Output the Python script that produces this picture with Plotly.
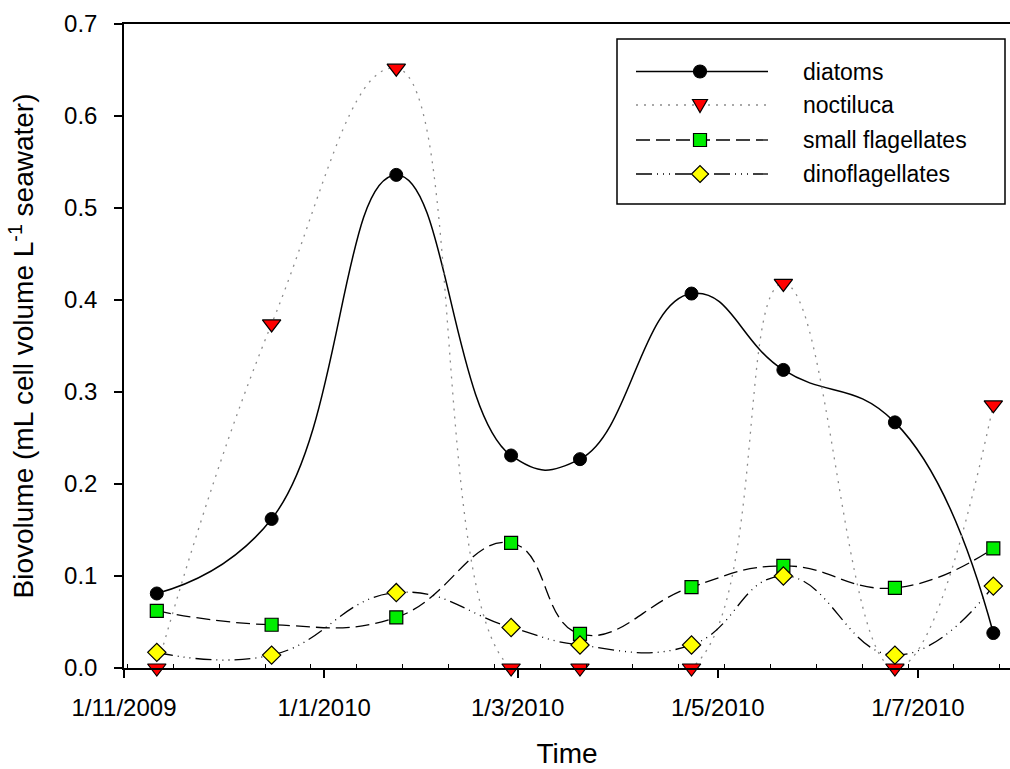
import plotly.graph_objects as go

# Sampling dates and biovolumes (mL cell volume per L seawater)
dates = ["2009-11-11", "2009-12-16", "2010-01-23", "2010-02-27", "2010-03-20",
         "2010-04-23", "2010-05-21", "2010-06-24", "2010-07-24"]
diatoms = [0.081, 0.162, 0.536, 0.231, 0.227, 0.407, 0.324, 0.267, 0.038]
noctiluca = [0.0, 0.374, 0.652, 0.0, 0.0, 0.0, 0.418, 0.0, 0.286]
small_flagellates = [0.062, 0.047, 0.055, 0.136, 0.037, 0.088, 0.111, 0.087, 0.130]
dinoflagellates = [0.017, 0.014, 0.082, 0.044, 0.025, 0.025, 0.100, 0.014, 0.089]

x_tickvals = ["2009-11-01", "2010-01-01", "2010-03-01", "2010-05-01", "2010-07-01"]
x_ticktext = ["1/11/2009", "1/1/2010", "1/3/2010", "1/5/2010", "1/7/2010"]
y_tickvals = [0.0, 0.1, 0.2, 0.3, 0.4, 0.5, 0.6, 0.7]

W, H = 1010, 769
ML, MR, MT, MB = 124, 0, 24, 101
PW, PH = W - ML - MR, H - MT - MB
FONT = "Liberation Sans, Arial, sans-serif"

series = [
    dict(name="diatoms", y=diatoms,
         line=dict(color="black", width=1.5, dash="solid"),
         marker=dict(symbol="circle", size=13, color="black",
                     line=dict(color="black", width=1))),
    dict(name="noctiluca", y=noctiluca,
         line=dict(color="#8c8c8c", width=1.3, dash="2px,6px"),
         marker=dict(symbol="triangle-down", size=16, color="#ff0000",
                     line=dict(color="black", width=1.2))),
    dict(name="small flagellates", y=small_flagellates,
         line=dict(color="black", width=1.3, dash="14px,6px"),
         marker=dict(symbol="square", size=13, color="#00ee00",
                     line=dict(color="black", width=1.2))),
    dict(name="dinoflagellates", y=dinoflagellates,
         line=dict(color="black", width=1.3,
                   dash="16px,5px,1px,5px,1px,5px,1px,5px"),
         marker=dict(symbol="diamond", size=14, color="#ffff00",
                     line=dict(color="black", width=1.2))),
]

fig = go.Figure()
for s in series:
    fig.add_trace(go.Scatter(
        x=dates, y=s["y"], name=s["name"], mode="lines+markers",
        line=dict(shape="spline", smoothing=1.3, **s["line"]),
        marker=s["marker"], cliponaxis=False, showlegend=False,
    ))


def px_x(px):
    return (px - ML) / PW


def px_y(py):
    return (H - MB - py) / PH


# Boxed key with long line samples
shapes = [dict(type="rect", xref="paper", yref="paper",
               x0=px_x(617), x1=px_x(1005), y0=px_y(39), y1=px_y(204),
               line=dict(color="black", width=1.5), fillcolor="white", layer="above")]
annotations = []
rows = [71.5, 105, 140, 174]
marker_paths = {
    "circle": None,
    "triangle-down": "M-7.5,5.5 L7.5,5.5 L0,-7.5 Z",
    "square": "M-6.5,-6.5 L6.5,-6.5 L6.5,6.5 L-6.5,6.5 Z",
    "diamond": "M0,-8.5 L8.5,0 L0,8.5 L-8.5,0 Z",
}
for s, ry in zip(series, rows):
    ln = s["line"]
    shapes.append(dict(type="line", xref="paper", yref="paper",
                       x0=px_x(636), x1=px_x(768), y0=px_y(ry), y1=px_y(ry),
                       line=dict(color=ln["color"], width=ln["width"], dash=ln["dash"]),
                       layer="above"))
    mk = s["marker"]
    sym = mk["symbol"]
    common = dict(xref="paper", yref="paper", xsizemode="pixel", ysizemode="pixel",
                  xanchor=px_x(700), yanchor=px_y(ry), fillcolor=mk["color"],
                  line=dict(color="black", width=1.2), layer="above")
    if sym == "circle":
        shapes.append(dict(type="circle", x0=-6.5, x1=6.5, y0=-6.5, y1=6.5, **common))
    else:
        shapes.append(dict(type="path", path=marker_paths[sym], **common))
    annotations.append(dict(xref="paper", yref="paper", x=px_x(801), y=px_y(ry),
                            xanchor="left", yanchor="middle", showarrow=False,
                            text=s["name"], font=dict(family=FONT, size=23, color="black")))

fig.update_layout(
    width=W, height=H,
    margin=dict(l=ML, r=MR, t=MT, b=MB, pad=0, autoexpand=False),
    paper_bgcolor="white", plot_bgcolor="white",
    font=dict(family=FONT, size=24, color="black"),
    shapes=shapes, annotations=annotations,
    showlegend=False,
)
fig.update_xaxes(
    type="date", range=["2009-11-01", "2010-07-29 02:00"],
    tickmode="array", tickvals=x_tickvals, ticktext=x_ticktext,
    tickfont=dict(size=24), automargin=False,
    ticks="outside", ticklen=8, tickwidth=1.5, tickcolor="black",
    ticklabelstandoff=9,
    minor=dict(tick0="2009-11-02", dtick=14 * 86400000, ticks="inside",
               ticklen=4, tickwidth=1, tickcolor="black", showgrid=False),
    showline=True, linecolor="black", linewidth=1.5, mirror=True,
    showgrid=False, zeroline=False,
    title=dict(text="Time", font=dict(family=FONT, size=28), standoff=34),
)
fig.update_yaxes(
    range=[0, 0.7], tickmode="array", tickvals=y_tickvals, tickformat=".1f",
    tickfont=dict(size=24), automargin=False,
    ticks="outside", ticklen=8, tickwidth=1.5, tickcolor="black",
    ticklabelstandoff=12,
    showline=True, linecolor="black", linewidth=1.5,
    showgrid=False, zeroline=False,
    title=dict(text="Biovolume (mL cell volume L<sup>-1</sup> seawater)",
               font=dict(family=FONT, size=28), standoff=22),
)

fig.write_html("out.html")
